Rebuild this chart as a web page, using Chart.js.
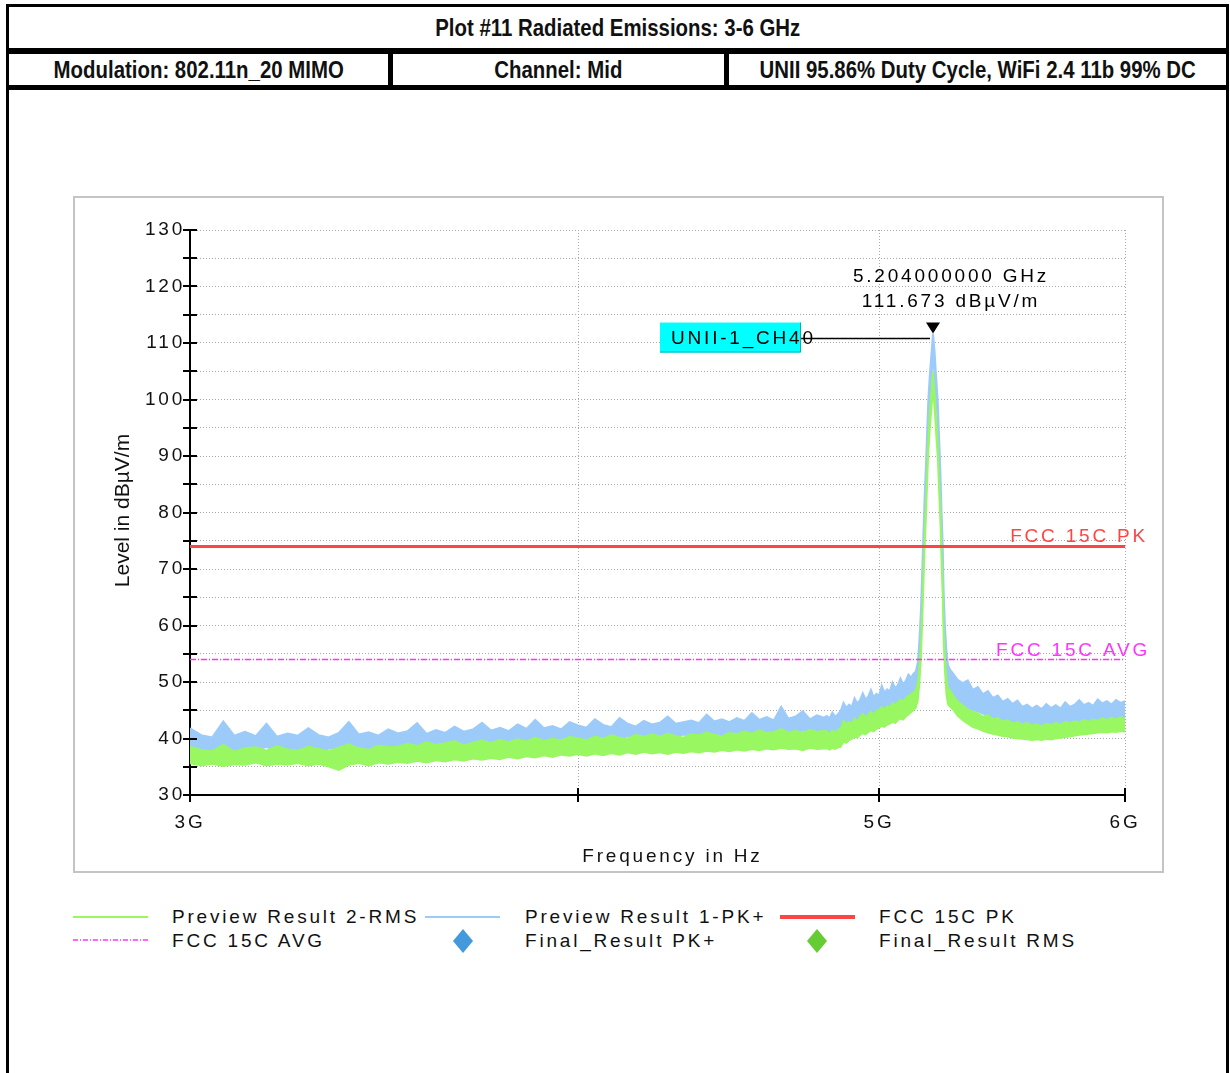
<!DOCTYPE html>
<html>
<head>
<meta charset="utf-8">
<script src="https://cdn.jsdelivr.net/npm/chart.js@4.4.0/dist/chart.umd.min.js"></script>
<style>
  body { margin: 0; background: #fff; width: 1230px; height: 1073px; overflow: hidden; position: relative; }
  .cell {
    position: absolute; box-sizing: border-box; border: 3px solid #000;
    display: flex; align-items: center; justify-content: center;
    font-family: "Liberation Sans", Arial, sans-serif;
    font-weight: bold; font-size: 24px; color: #111;
  }
  .cell span { display: inline-block; transform: scaleX(0.85); white-space: nowrap; }
  #frame { position: absolute; left: 73px; top: 196px; width: 1091px; height: 677px; box-sizing: border-box; border: 2px solid #c4c4c4; }
  #wrap { position: absolute; left: 75px; top: 198px; width: 1086px; height: 673px; }
  .leg { position: absolute; font-family: "Liberation Sans", sans-serif; font-size: 19px; letter-spacing: 2.8px; color: #111; line-height: 20px; }
  .sym { position: absolute; }
</style>
</head>
<body>
<div class="cell" style="left:6px;top:4px;width:1223px;height:47px;"><span>Plot #11 Radiated Emissions: 3-6 GHz</span></div>
<div class="cell" style="left:6px;top:51px;width:385px;height:37px;"><span>Modulation: 802.11n_20 MIMO</span></div>
<div class="cell" style="left:390px;top:51px;width:337px;height:37px;"><span>Channel: Mid</span></div>
<div class="cell" style="left:726px;top:51px;width:503px;height:37px;"><span>UNII 95.86% Duty Cycle, WiFi 2.4 11b 99% DC</span></div>
<div class="cell" style="left:6px;top:87px;width:1223px;height:1000px;"></div>

<div id="frame"></div>
<div id="wrap"><canvas id="emiChart" width="1086" height="673"></canvas></div>

<!-- legend -->
<div class="sym" style="left:73px;top:916px;width:75px;height:2px;background:#99f762"></div>
<div class="leg" style="left:172px;top:907px">Preview Result 2-RMS</div>
<div class="sym" style="left:425px;top:916px;width:75px;height:2px;background:#9ccbfa"></div>
<div class="leg" style="left:525px;top:907px">Preview Result 1-PK+</div>
<div class="sym" style="left:780px;top:915px;width:75px;height:4px;background:#ff4444"></div>
<div class="leg" style="left:879px;top:907px">FCC 15C PK</div>
<svg class="sym" style="left:73px;top:938px" width="75" height="4"><line x1="0" y1="2" x2="75" y2="2" stroke="#ff33ff" stroke-width="1.5" stroke-dasharray="5 2 1 2"/></svg>
<div class="leg" style="left:172px;top:931px">FCC 15C AVG</div>
<svg class="sym" style="left:453px;top:929px" width="20" height="24"><polygon points="10,0 20,12 10,24 0,12" fill="#4499dd"/></svg>
<div class="leg" style="left:525px;top:931px">Final_Result PK+</div>
<svg class="sym" style="left:807px;top:929px" width="20" height="24"><polygon points="10,0 20,12 10,24 0,12" fill="#66cc33"/></svg>
<div class="leg" style="left:879px;top:931px">Final_Result RMS</div>

<script>
// ---------------- Data (MHz / dBµV/m) ----------------
const freqMHz = [
  3000,3025,3050,3075,3100,3125,3150,3175,3200,3225,
  3250,3275,3300,3325,3350,3375,3400,3425,3450,3475,
  3500,3525,3550,3575,3600,3625,3650,3675,3700,3725,
  3750,3775,3800,3825,3850,3875,3900,3925,3950,3975,
  4000,4025,4050,4075,4100,4125,4150,4175,4200,4225,
  4250,4275,4300,4325,4350,4375,4400,4425,4450,4475,
  4500,4525,4550,4575,4600,4625,4650,4675,4700,4725,
  4750,4775,4800,
  4810,4820,4830,4840,4850,4860,4870,4880,4890,4900,
  4910,4920,4930,4940,4950,4960,4970,4980,4990,5000,
  5010,5020,5030,5040,5050,5060,5070,5080,5090,5100,
  5110,5120,
  5130,5138,5146,5152,5158,5163,5167,5172,5177,5182,
  5186,5192,5198,5204,5210,5216,5222,5227,5232,5237,
  5241,5245,5250,5256,5262,5270,
  5280,5300,5320,5340,5360,5380,5400,5420,5440,5460,
  5480,5500,5520,5540,5560,5580,5600,5620,5640,5660,
  5680,5700,5720,5740,5760,5780,5800,5820,5840,5860,
  5880,5900,5920,5940,5960,5980,6000
];

// Preview Result 1-PK+ : upper and lower edge of the trace band
const pkHigh = [
  41.8,40.6,40.2,43.0,40.5,41.2,40.4,42.6,40.3,40.9,
  40.5,41.8,40.6,40.2,41.0,42.9,40.7,41.1,40.5,41.6,
  40.9,41.3,42.7,40.8,41.5,41.0,42.1,41.2,41.6,42.8,
  41.4,41.9,41.3,42.5,41.7,43.3,41.8,42.2,41.6,42.9,
  42.3,41.9,43.4,42.4,42.0,43.6,42.6,42.1,43.1,42.5,
  42.8,43.9,42.6,42.9,43.2,42.7,44.2,43.0,43.4,42.9,
  43.6,43.1,44.5,43.3,43.8,43.2,45.6,43.5,43.9,44.8,
  43.4,44.1,43.7,
  44.0,43.6,44.6,43.8,44.3,44.9,46.3,45.4,46.0,45.6,
  47.1,46.2,46.8,48.0,46.9,47.4,48.6,47.3,47.9,47.6,
  49.3,48.1,48.7,48.3,49.9,48.9,49.4,50.6,49.6,50.2,
  51.3,50.8,
  51.5,51.8,53.5,57.5,63.0,70.0,76.0,83.0,88.5,95.0,
  100.0,104.5,108.0,111.673,108.5,104.0,100.0,94.0,88.0,80.0,
  75.0,66.0,60.0,55.5,53.0,52.2,
  51.6,50.4,49.8,50.3,48.6,49.1,47.8,48.4,47.2,47.6,
  46.5,47.0,46.1,46.7,45.6,46.0,45.3,45.8,45.2,46.1,
  45.4,45.9,45.3,46.4,45.6,46.0,46.8,45.9,46.3,45.8,
  46.9,46.2,46.6,46.0,46.8,46.3,46.6
];
const pkLow = [
  38.6,38.0,37.9,38.4,37.8,38.2,38.0,38.5,37.9,38.3,
  38.1,38.4,37.9,38.2,38.5,38.3,38.6,38.2,38.7,38.4,
  38.8,38.5,39.0,38.7,39.1,38.8,39.2,38.9,39.3,39.1,
  39.4,39.0,39.5,39.2,39.6,39.4,39.8,39.5,39.9,39.7,
  40.0,39.8,40.2,39.9,40.3,40.0,40.4,40.1,40.5,40.2,
  40.4,40.6,40.3,40.7,40.4,40.8,40.5,40.9,40.6,40.8,
  41.0,40.7,41.1,40.8,41.2,40.9,41.3,41.0,41.1,41.4,
  41.0,41.3,41.1,
  41.2,41.0,41.3,41.1,41.4,41.6,42.3,42.1,42.6,42.4,
  43.0,42.8,43.3,43.6,43.4,43.8,44.1,43.9,44.3,44.6,
  44.9,44.7,45.1,45.3,45.6,45.4,45.9,46.2,46.0,46.5,
  46.9,47.2,
  47.6,48.2,50.0,54.0,59.5,66.5,72.5,79.5,85.0,91.5,
  96.5,101.0,104.5,107.5,104.5,100.5,96.5,90.5,84.5,76.5,
  71.5,62.5,56.5,52.0,49.5,48.4,
  47.0,46.4,45.8,45.5,45.0,44.8,44.4,44.1,43.8,43.6,
  43.3,43.1,42.9,42.8,42.6,42.5,42.4,42.2,42.1,42.2,
  42.1,42.3,42.2,42.4,42.5,42.6,42.8,42.9,43.0,43.1,
  43.2,43.3,43.4,43.5,43.6,43.6,43.7
];

// Preview Result 2-RMS : upper and lower edge of the trace band
const rmsHigh = [
  38.6,38.0,37.8,38.9,37.7,38.3,38.5,37.9,38.7,38.1,
  37.9,38.6,38.2,37.8,38.4,39.0,38.3,38.0,38.8,38.5,
  38.6,39.1,38.7,39.4,38.9,39.2,39.6,38.8,39.3,39.7,
  39.2,39.8,39.4,39.9,39.5,40.2,39.6,40.0,39.7,40.3,
  40.1,39.7,40.4,40.0,40.6,40.2,40.0,40.7,40.3,40.8,
  40.4,40.9,40.5,40.2,40.8,40.6,41.1,40.7,40.4,41.0,
  40.8,41.3,40.9,41.5,41.0,41.2,41.7,41.1,41.4,41.0,
  41.6,41.2,41.4,
  41.3,40.9,41.5,41.1,41.6,41.8,43.2,42.6,43.0,42.7,
  43.6,43.1,43.9,44.4,43.8,44.2,44.8,44.3,44.9,45.1,
  45.6,45.2,45.8,45.5,46.3,45.9,46.5,46.9,46.6,47.2,
  47.6,47.9,
  48.2,48.6,50.0,53.0,57.5,63.5,69.5,76.5,82.0,88.5,
  93.5,98.0,101.5,105.0,101.5,97.0,93.0,87.0,81.5,73.5,
  68.5,60.0,55.0,51.0,49.0,48.6,
  47.8,46.6,45.9,45.2,44.8,44.5,43.9,44.2,43.4,43.7,
  43.0,43.3,42.7,43.0,42.5,42.8,42.3,42.6,42.2,42.7,
  42.4,42.8,42.5,43.0,42.7,43.1,42.9,43.3,43.0,43.4,
  43.2,43.6,43.3,43.7,43.4,43.8,43.6
];
const rmsLow = [
  35.6,35.2,35.5,35.1,35.4,35.3,35.7,35.2,35.5,35.3,
  35.6,35.2,35.5,35.0,34.4,35.3,35.6,35.2,35.7,35.5,
  35.8,35.6,36.0,35.7,36.1,35.9,36.3,36.0,36.4,36.2,
  36.5,36.3,36.7,36.4,36.8,36.6,37.0,36.7,37.1,36.9,
  37.2,36.9,37.3,37.0,37.4,37.1,37.5,37.2,37.6,37.3,
  37.5,37.2,37.6,37.4,37.7,37.5,37.8,37.6,37.9,37.7,
  38.0,37.8,38.1,37.9,38.2,38.0,38.3,38.1,38.2,37.9,
  38.3,38.1,38.2,
  38.2,38.0,38.3,38.1,38.4,38.5,39.4,39.2,39.7,39.9,
  40.3,40.1,40.6,40.9,40.7,41.1,41.4,41.2,41.6,41.9,
  42.2,42.0,42.4,42.6,42.9,42.7,43.2,43.5,43.3,43.8,
  44.2,44.6,
  45.0,45.4,46.6,49.5,54.0,60.0,66.0,73.0,78.5,85.0,
  90.0,94.5,98.0,101.5,98.0,93.5,89.5,83.5,78.0,70.0,
  65.0,56.5,51.5,47.5,46.0,45.6,
  45.2,44.0,43.2,42.6,42.0,41.7,41.3,41.0,40.8,40.6,
  40.4,40.3,40.1,40.0,39.9,39.8,39.7,39.8,39.7,39.9,
  39.8,40.0,40.1,40.2,40.3,40.5,40.6,40.7,40.8,40.9,
  41.0,41.1,41.0,41.2,41.1,41.3,41.2
];

// limit lines
const limitFreq = [3000, 6000];
const limitPk = 74;
const limitAvg = 54;
const limitPkLabel = 'FCC 15C PK';
const limitAvgLabel = 'FCC 15C AVG';

// marker
const markerFreq = 5204;
const markerLevel = 111.673;
const markerName = 'UNII-1_CH40';
const markerLines = ['5.204000000 GHz', '111.673 dBµV/m'];

// axes
const xTicks = [3000, 4000, 5000, 6000];
const xTickLabels = ['3G', '', '5G', '6G'];
const xTitle = 'Frequency in Hz';
const yTitle = 'Level in dBµV/m';
const yMin = 30, yMax = 130, yStep = 5;

[pkHigh, pkLow, rmsHigh, rmsLow].forEach((a, i) => {
  if (a.length !== freqMHz.length) console.error('length mismatch', i, a.length, freqMHz.length);
});

const colBlue = '#9ccbfa';
const colGreen = '#99f762';
const colRed = '#ff4444';
const colMagenta = '#ff33ff';

const chartFont = '"Liberation Sans", sans-serif';
const LETTER_GAP = '2.8px';

const pts = vals => freqMHz.map((f, i) => ({ x: f, y: vals[i] }));
const limitPts = lvl => limitFreq.map(f => ({ x: f, y: lvl }));

// ---------------- Decorations ----------------
const plotDecor = {
  id: 'plotDecor',
  beforeUpdate(chart) { chart.ctx.letterSpacing = LETTER_GAP; },
  beforeLayout(chart) { chart.ctx.letterSpacing = LETTER_GAP; },
  beforeDraw(chart) { chart.ctx.letterSpacing = LETTER_GAP; },
  afterDatasetsDraw(chart) {
    const { ctx, chartArea: a, scales: { x, y } } = chart;
    ctx.save();

    // tick marks crossing the axes
    ctx.strokeStyle = '#000';
    ctx.lineWidth = 2;
    y.ticks.forEach(t => {
      const py = Math.round(y.getPixelForValue(t.value));
      ctx.beginPath(); ctx.moveTo(a.left - 7, py); ctx.lineTo(a.left + 7, py); ctx.stroke();
    });
    x.ticks.forEach(t => {
      const px = Math.round(x.getPixelForValue(t.value));
      ctx.beginPath(); ctx.moveTo(px, a.bottom - 7); ctx.lineTo(px, a.bottom + 7); ctx.stroke();
    });

    // limit labels
    ctx.font = '19px ' + chartFont;
    ctx.letterSpacing = LETTER_GAP;
    ctx.textAlign = 'right';
    ctx.textBaseline = 'alphabetic';
    ctx.fillStyle = colRed;
    ctx.fillText(limitPkLabel, a.right + 23, y.getPixelForValue(limitPk) - 4);
    ctx.fillStyle = colMagenta;
    ctx.fillText(limitAvgLabel, a.right + 25, y.getPixelForValue(limitAvg) - 3);

    // marker
    const mx = x.getPixelForValue(markerFreq);
    const my = y.getPixelForValue(markerLevel);
    ctx.fillStyle = '#000';
    ctx.beginPath();
    ctx.moveTo(mx - 7, my - 11); ctx.lineTo(mx + 7, my - 11); ctx.lineTo(mx, my); ctx.closePath();
    ctx.fill();

    ctx.textAlign = 'center';
    ctx.textBaseline = 'middle';
    ctx.fillText(markerLines[0], mx + 18, my - 57);
    ctx.fillText(markerLines[1], mx + 18, my - 32);

    const boxR = mx - 132, boxL = mx - 273, boxT = my - 11, boxB = my + 19;
    ctx.strokeStyle = '#000'; ctx.lineWidth = 1.5;
    ctx.beginPath(); ctx.moveTo(boxR, my + 5); ctx.lineTo(mx - 3, my + 5); ctx.stroke();
    ctx.fillStyle = '#00ffff';
    ctx.fillRect(boxL, boxT, boxR - boxL, boxB - boxT);
    ctx.strokeStyle = '#00b4b4'; ctx.lineWidth = 1;
    ctx.beginPath(); ctx.moveTo(boxL, boxB - 0.5); ctx.lineTo(boxR - 0.5, boxB - 0.5); ctx.lineTo(boxR - 0.5, boxT); ctx.stroke();
    ctx.fillStyle = '#000';
    ctx.textAlign = 'left';
    ctx.fillText(markerName, boxL + 11, my + 5);

    // x axis title
    ctx.textAlign = 'center';
    ctx.fillStyle = '#111';
    ctx.fillText(xTitle, (a.left + a.right) / 2 + 15, a.bottom + 62);

    // y axis title (plain font, no letter spacing)
    ctx.letterSpacing = '0px';
    ctx.font = '21px "Liberation Sans", Arial, sans-serif';
    ctx.translate(a.left - 67, (a.top + a.bottom) / 2 - 2);
    ctx.rotate(-Math.PI / 2);
    ctx.textAlign = 'center';
    ctx.fillText(yTitle, 0, 0);
    ctx.restore();
  }
};

// ---------------- Chart ----------------
const ctx = document.getElementById('emiChart').getContext('2d');
new Chart(ctx, {
  type: 'line',
  data: {
    datasets: [
      { label: limitPkLabel, data: limitPts(limitPk), borderColor: colRed, borderWidth: 3, fill: false },
      { label: limitAvgLabel, data: limitPts(limitAvg), borderColor: colMagenta, borderWidth: 1.5, borderDash: [6, 2, 1, 2], fill: false },
      { label: 'Preview Result 2-RMS', data: pts(rmsHigh), borderColor: colGreen, backgroundColor: colGreen, borderWidth: 1.5, fill: '+1' },
      { label: 'Preview Result 2-RMS low', data: pts(rmsLow), borderColor: colGreen, borderWidth: 1.5, fill: false },
      { label: 'Preview Result 1-PK+', data: pts(pkHigh), borderColor: colBlue, backgroundColor: colBlue, borderWidth: 2, fill: '+1' },
      { label: 'Preview Result 1-PK+ low', data: pts(pkLow), borderColor: colBlue, borderWidth: 2, fill: false },
      { label: 'Final_Result PK+', data: [], showLine: false, pointStyle: 'rectRot', backgroundColor: '#4499dd' },
      { label: 'Final_Result RMS', data: [], showLine: false, pointStyle: 'rectRot', backgroundColor: '#66cc33' }
    ]
  },
  options: {
    responsive: false,
    animation: false,
    events: [],
    layout: { padding: { top: 32, right: 36, left: 0, bottom: 0 } },
    elements: { point: { radius: 0 }, line: { tension: 0 } },
    font: { family: chartFont, size: 19 },
    plugins: {
      legend: { display: false },
      tooltip: { enabled: false }
    },
    scales: {
      x: {
        type: 'logarithmic',
        min: 3000,
        max: 6000,
        afterBuildTicks: scale => { scale.ticks = xTicks.map(v => ({ value: v })); },
        afterFit: scale => { scale.height = 76; },
        ticks: {
          autoSkip: false, maxRotation: 0, padding: 16, color: '#111',
          font: { family: chartFont, size: 19 },
          callback: v => xTickLabels[xTicks.indexOf(v)]
        },
        grid: { color: '#a8a8a8', lineWidth: 1, drawTicks: false },
        border: { display: true, color: '#000', width: 2, dash: [1, 2] },
        title: { display: false }
      },
      y: {
        min: yMin,
        max: yMax,
        afterFit: scale => { scale.width = 115; },
        ticks: {
          stepSize: yStep, padding: 5, color: '#111',
          font: { family: chartFont, size: 19 },
          callback: v => (v % 10 === 0 ? String(v) : '')
        },
        grid: { color: '#a8a8a8', lineWidth: 1, drawTicks: false },
        border: { display: true, color: '#000', width: 2, dash: [1, 2] }
      }
    }
  },
  plugins: [plotDecor]
});
</script>
</body>
</html>
